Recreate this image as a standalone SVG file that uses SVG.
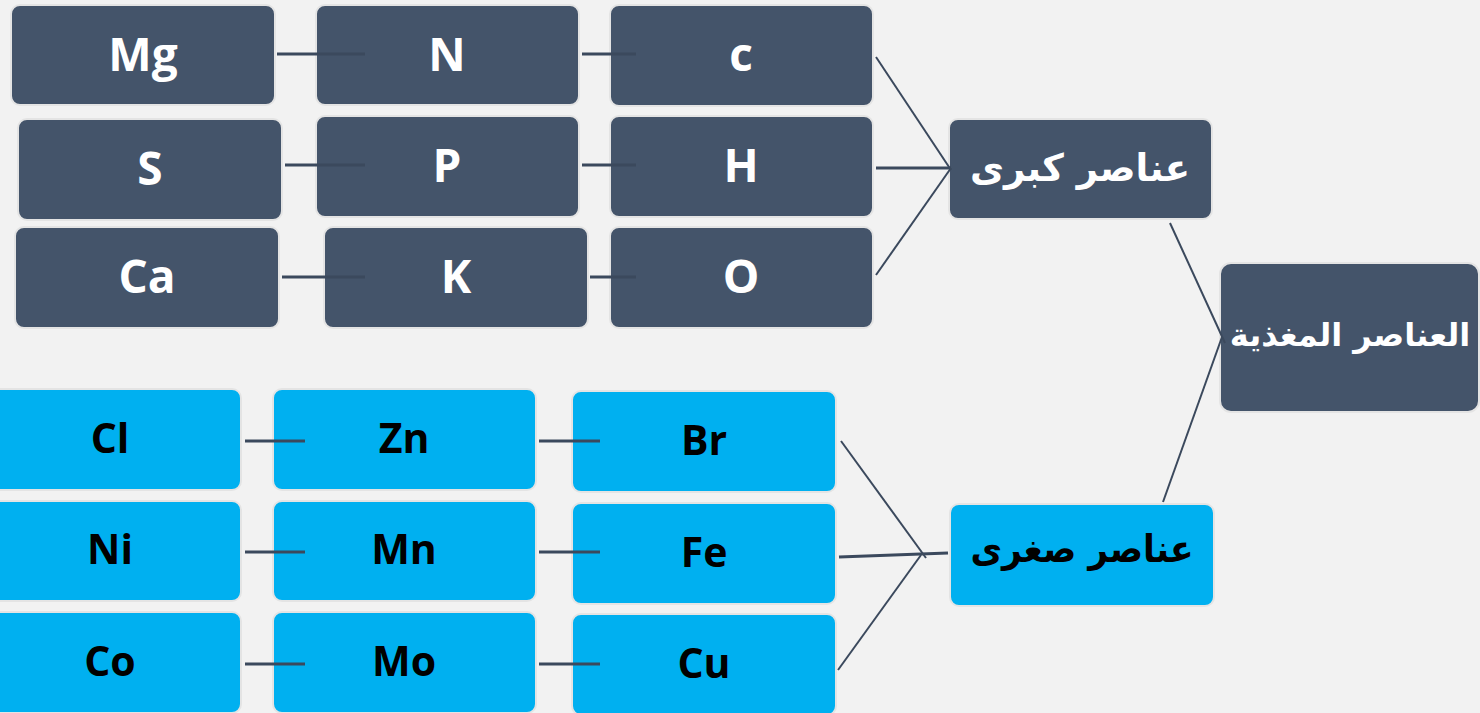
<svg xmlns="http://www.w3.org/2000/svg" width="1480" height="713" viewBox="0 0 1480 713">
<style>
.bg{fill:#f2f2f2}
.dk{fill:#44546a;stroke:#e4e4e4;stroke-width:2}
.cy{fill:#00b0f0;stroke:#e4e4e4;stroke-width:2}
.tw{font-family:"Open Sans","Noto Sans",sans-serif;font-weight:bold;font-size:46px;fill:#ffffff;text-anchor:middle}
.tb{font-family:"Open Sans","Noto Sans",sans-serif;font-weight:bold;font-size:41px;fill:#000000;text-anchor:middle}
.ar{font-family:"DejaVu Sans","Noto Sans",sans-serif;font-weight:bold;font-size:38px;text-anchor:middle}
.h{stroke:#3b495d;stroke-width:3;fill:none}
.d{stroke:#3b495d;stroke-width:2;fill:none}
</style>
<rect class="bg" x="0" y="0" width="1480" height="713"/>
<g id="Mg"><rect class="dk" x="11" y="5" width="264" height="100" rx="9"/><text class="tw" x="143" y="71">Mg</text></g>
<g id="N"><rect class="dk" x="316" y="5" width="263" height="100" rx="9"/><text class="tw" x="447" y="71">N</text></g>
<g id="c"><rect class="dk" x="610" y="5" width="263" height="101" rx="9"/><text class="tw" x="741" y="71">c</text></g>
<g id="S"><rect class="dk" x="18" y="119" width="264" height="101" rx="9"/><text class="tw" x="150" y="185">S</text></g>
<g id="P"><rect class="dk" x="316" y="116" width="263" height="101" rx="9"/><text class="tw" x="447" y="182">P</text></g>
<g id="H"><rect class="dk" x="610" y="116" width="263" height="101" rx="9"/><text class="tw" x="741" y="182">H</text></g>
<g id="Ca"><rect class="dk" x="15" y="227" width="264" height="101" rx="9"/><text class="tw" x="147" y="293">Ca</text></g>
<g id="K"><rect class="dk" x="324" y="227" width="264" height="101" rx="9"/><text class="tw" x="456" y="293">K</text></g>
<g id="O"><rect class="dk" x="610" y="227" width="263" height="101" rx="9"/><text class="tw" x="741" y="293">O</text></g>
<g id="kubra"><rect class="dk" x="949" y="119" width="263" height="100" rx="9"/><text class="ar" x="1080" y="181" fill="#ffffff" textLength="220" lengthAdjust="spacingAndGlyphs">عناصر كبرى</text></g>
<g id="main"><rect class="dk" x="1220" y="263" width="259" height="149" rx="11"/><text class="ar" x="1350" y="346" fill="#ffffff" style="font-size:32px">العناصر المغذية</text></g>
<g id="Cl"><rect class="cy" x="-22" y="389" width="263" height="101" rx="9"/><text class="tb" x="110" y="453">Cl</text></g>
<g id="Zn"><rect class="cy" x="273" y="389" width="263" height="101" rx="9"/><text class="tb" x="404" y="453">Zn</text></g>
<g id="Br"><rect class="cy" x="572" y="391" width="264" height="101" rx="9"/><text class="tb" x="704" y="455">Br</text></g>
<g id="Ni"><rect class="cy" x="-22" y="501" width="263" height="100" rx="9"/><text class="tb" x="110" y="564">Ni</text></g>
<g id="Mn"><rect class="cy" x="273" y="501" width="263" height="100" rx="9"/><text class="tb" x="404" y="564">Mn</text></g>
<g id="Fe"><rect class="cy" x="572" y="503" width="264" height="101" rx="9"/><text class="tb" x="704" y="567">Fe</text></g>
<g id="Co"><rect class="cy" x="-22" y="612" width="263" height="101" rx="9"/><text class="tb" x="110" y="676">Co</text></g>
<g id="Mo"><rect class="cy" x="273" y="612" width="263" height="101" rx="9"/><text class="tb" x="404" y="676">Mo</text></g>
<g id="Cu"><rect class="cy" x="572" y="614" width="264" height="101" rx="9"/><text class="tb" x="704" y="678">Cu</text></g>
<g id="sughra"><rect class="cy" x="950" y="504" width="264" height="102" rx="9"/><text class="ar" x="1082" y="562" fill="#000000" textLength="223" lengthAdjust="spacingAndGlyphs">عناصر صغرى</text></g>
<g id="connectors">
<line class="h" x1="277" y1="54" x2="365" y2="54"/>
<line class="h" x1="582" y1="54" x2="636" y2="54"/>
<line class="h" x1="285" y1="165" x2="365" y2="165"/>
<line class="h" x1="582" y1="165" x2="636" y2="165"/>
<line class="h" x1="282" y1="277" x2="365" y2="277"/>
<line class="h" x1="590" y1="277" x2="636" y2="277"/>
<line class="d" x1="876" y1="57" x2="951" y2="170"/>
<line class="h" x1="876" y1="168" x2="951" y2="168"/>
<line class="d" x1="876" y1="275" x2="951" y2="168"/>
<line class="d" x1="1170" y1="223" x2="1225" y2="343"/>
<line class="d" x1="1222" y1="337" x2="1163" y2="502"/>
<line class="h" x1="245" y1="441" x2="305" y2="441"/>
<line class="h" x1="539" y1="441" x2="600" y2="441"/>
<line class="h" x1="245" y1="552" x2="305" y2="552"/>
<line class="h" x1="539" y1="552" x2="600" y2="552"/>
<line class="h" x1="245" y1="664" x2="305" y2="664"/>
<line class="h" x1="539" y1="664" x2="600" y2="664"/>
<line class="d" x1="841" y1="441" x2="926" y2="558"/>
<line class="h" x1="839" y1="557" x2="948" y2="553"/>
<line class="d" x1="838" y1="670" x2="921" y2="555"/>
</g>
</svg>
